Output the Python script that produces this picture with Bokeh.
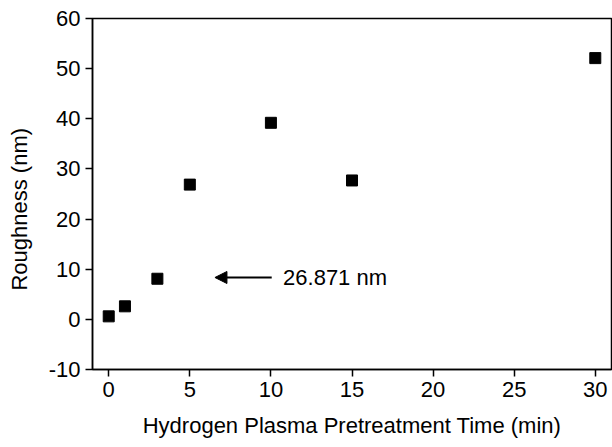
from bokeh.plotting import figure
from bokeh.models import Range1d, Arrow, NormalHead, Label, FixedTicker
from bokeh.embed import file_html
from bokeh.resources import INLINE

# data
time_min = [0, 1, 3, 5, 10, 15, 30]
roughness_nm = [0.6, 2.6, 8.1, 26.871, 39.2, 27.7, 52.1]
x_ticks = [0, 5, 10, 15, 20, 25, 30]
y_ticks = [-10, 0, 10, 20, 30, 40, 50, 60]
y_tick_labels = {t: str(t) for t in y_ticks}
annot_text = "26.871 nm"
arrow_head_xy = (6.55, 8.35)
arrow_tail_xy = (10.05, 8.35)
annot_xy = (10.75, 8.35)

FONT = "Liberation Sans"
FS = "22px"

p = figure(width=612, height=447, output_backend="svg", toolbar_location=None,
           x_range=Range1d(-1, 31), y_range=Range1d(-10, 60))
p.min_border_left = 92
p.min_border_right = 1
p.min_border_top = 18
p.min_border_bottom = 78

p.scatter(time_min, roughness_nm, marker="square", size=11, color="black")

p.add_layout(Arrow(end=NormalHead(size=12, fill_color="black", line_color="black"),
                   x_start=arrow_tail_xy[0], y_start=arrow_tail_xy[1],
                   x_end=arrow_head_xy[0], y_end=arrow_head_xy[1],
                   line_width=2, line_color="black"))
p.add_layout(Label(x=annot_xy[0], y=annot_xy[1], text=annot_text,
                   text_font=FONT, text_font_size=FS, text_baseline="middle",
                   text_color="black"))

p.grid.visible = False
p.outline_line_color = "black"
p.outline_line_width = 1.5
p.background_fill_color = "white"
p.border_fill_color = "white"

p.xaxis.ticker = FixedTicker(ticks=x_ticks)
p.yaxis.ticker = FixedTicker(ticks=y_ticks)
p.yaxis.major_label_overrides = y_tick_labels
p.xaxis.axis_label = "Hydrogen Plasma Pretreatment Time (min)"
p.yaxis.axis_label = "Roughness (nm)" + "\u00a0" * 5
for ax in (p.xaxis, p.yaxis):
    ax.axis_line_width = 1.5
    ax.axis_line_color = "black"
    ax.major_tick_line_width = 1.5
    ax.major_tick_line_color = "black"
    ax.major_tick_out = 7
    ax.major_tick_in = 0
    ax.minor_tick_line_color = None
    ax.major_label_text_font = FONT
    ax.major_label_text_font_size = FS
    ax.major_label_text_color = "black"
    ax.axis_label_text_font = FONT
    ax.axis_label_text_font_size = FS
    ax.axis_label_text_font_style = "normal"
    ax.axis_label_text_color = "black"
    ax.major_label_standoff = 5
p.xaxis.axis_label_standoff = 13
p.yaxis.axis_label_standoff = 14

open("out.html", "w").write(file_html(p, INLINE))
